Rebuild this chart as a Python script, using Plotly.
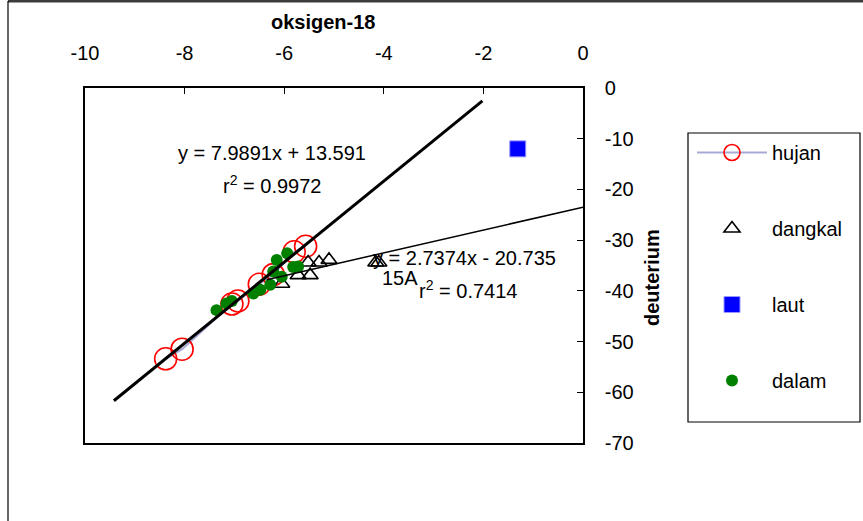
import plotly.graph_objects as go

# ---------------- data ----------------
hujan_x = [-8.38, -8.05, -7.05, -6.93, -6.50, -6.22, -5.80, -5.57]
hujan_y = [-53.4, -51.5, -42.6, -42.0, -38.7, -36.8, -32.3, -31.2]

dangkal_x = [-6.05, -5.72, -5.48, -5.52, -5.30, -5.10, -4.16, -4.10]
dangkal_y = [-38.6, -36.9, -36.9, -34.4, -34.4, -33.9, -34.4, -34.4]

laut_x = [-1.31]
laut_y = [-12.0]

dalam_x = [-7.36, -7.16, -7.05, -6.62, -6.48, -6.28, -6.22, -6.05, -6.15, -5.94, -5.82, -5.72]
dalam_y = [-43.8, -42.5, -42.0, -40.5, -39.8, -38.8, -36.2, -37.2, -33.9, -32.6, -35.3, -35.2]

# trendline of hujan: y = 7.9891x + 13.591
hujan_slope, hujan_intercept = 7.9891, 13.591
hujan_trend_x = [-9.42, -2.02]
hujan_trend_y = [hujan_slope * v + hujan_intercept for v in hujan_trend_x]

# trendline of dangkal as drawn in the picture
dangkal_trend_x = [-6.35, 0.0]
dangkal_trend_y = [-37.8, -23.5]

x_ticks = [-10, -8, -6, -4, -2, 0]
x_tick_labels = ["-10", "-8", "-6", "-4", "-2", "0"]
y_ticks = [0, -10, -20, -30, -40, -50, -60, -70]
y_tick_labels = ["0", "-10", "-20", "-30", "-40", "-50", "-60", "-70"]

FONT = "Liberation Sans, Arial, sans-serif"
FS = 20

# ---------------- figure ----------------
fig = go.Figure()

order = sorted(range(len(hujan_x)), key=lambda i: hujan_x[i])
fig.add_trace(go.Scatter(
    x=[hujan_x[i] for i in order], y=[hujan_y[i] for i in order],
    mode="lines+markers", name="hujan",
    line=dict(color="rgba(160,160,210,0.9)", width=2),
    marker=dict(symbol="circle-open", size=22, color="#ff0000", line=dict(width=1.6, color="#ff0000")),
    legendgroup="1",
))
fig.add_trace(go.Scatter(
    x=dangkal_x, y=dangkal_y, mode="markers", name="dangkal",
    marker=dict(symbol="triangle-up-open", size=14, color="black", line=dict(width=1.6, color="black")),
    legendgroup="2",
))
fig.add_trace(go.Scatter(
    x=laut_x, y=laut_y, mode="markers", name="laut",
    marker=dict(symbol="square", size=16, color="#0000ff", line=dict(width=1, color="#9999ff")),
    legendgroup="3",
))
fig.add_trace(go.Scatter(
    x=dalam_x, y=dalam_y, mode="markers", name="dalam",
    marker=dict(symbol="circle", size=12, color="#008000", line=dict(width=0)),
    legendgroup="4",
))
fig.add_trace(go.Scatter(
    x=hujan_trend_x, y=hujan_trend_y, mode="lines", showlegend=False,
    line=dict(color="black", width=3), hoverinfo="skip",
))
fig.add_trace(go.Scatter(
    x=dangkal_trend_x, y=dangkal_trend_y, mode="lines", showlegend=False,
    line=dict(color="black", width=1.5), hoverinfo="skip",
))

# pixel -> paper helpers (plot area 85..583 x 88..443)
L, R, T, B = 85, 583, 88, 443
def px(xp):
    return (xp - L) / (R - L)
def py(yp):
    return (B - yp) / (B - T)

txt = dict(size=FS, family=FONT, color="black")
annotations = [
    dict(text="<b>oksigen-18</b>", xref="paper", yref="paper", x=px(323), y=py(22),
         xanchor="center", yanchor="middle", showarrow=False, font=txt),
    dict(text="<b>deuterium</b>", xref="paper", yref="paper", x=px(652), y=py(278),
         xanchor="center", yanchor="middle", textangle=-90, showarrow=False, font=txt),
    dict(text="y = 7.9891x + 13.591", xref="x", yref="y", x=-6.24, y=-12.8,
         xanchor="center", yanchor="middle", showarrow=False, font=txt),
    dict(text="r<sup>2</sup> = 0.9972", xref="x", yref="y", x=-6.24, y=-19.1,
         xanchor="center", yanchor="middle", showarrow=False, font=txt),
    dict(text="y = 2.7374x - 20.735", xref="x", yref="y", x=-4.25, y=-33.5,
         xanchor="left", yanchor="middle", showarrow=False, font=txt),
    dict(text="15A", xref="x", yref="y", x=-4.08, y=-37.4,
         xanchor="left", yanchor="middle", showarrow=False, font=txt),
    dict(text="r<sup>2</sup> = 0.7414", xref="x", yref="y", x=-3.33, y=-39.8,
         xanchor="left", yanchor="middle", showarrow=False, font=txt),
]

shapes = [
    # outer chart frame (top and left visible)
    dict(type="line", xref="paper", yref="paper", x0=px(8), x1=px(870), y0=py(1), y1=py(1),
         line=dict(color="#3c3c3c", width=3)),
    dict(type="line", xref="paper", yref="paper", x0=px(8), x1=px(8), y0=py(1), y1=py(530),
         line=dict(color="black", width=1.2)),
    # legend frame
    dict(type="rect", xref="paper", yref="paper", x0=px(688), x1=px(860), y0=py(422), y1=py(133),
         line=dict(color="black", width=1.2), fillcolor="rgba(0,0,0,0)"),
]

axis_common = dict(
    showgrid=False, zeroline=False, showline=True, mirror=True,
    linecolor="black", linewidth=1.5, ticks="inside", ticklen=6,
    tickcolor="black", tickwidth=1.2,
    tickfont=dict(size=FS, family=FONT, color="black"),
)

fig.update_layout(
    width=863, height=521,
    margin=dict(l=L, r=863 - R, t=T, b=521 - B),
    paper_bgcolor="white", plot_bgcolor="white",
    xaxis=dict(range=[-10, 0], side="top", tickvals=x_ticks, ticktext=x_tick_labels,
               ticklabelstandoff=18, **axis_common),
    yaxis=dict(range=[-70, 0], side="right", tickvals=y_ticks, ticktext=y_tick_labels,
               ticklabelstandoff=16, **axis_common),
    showlegend=True,
    legend=dict(
        x=px(692), y=py(133), xanchor="left", yanchor="top",
        bgcolor="rgba(0,0,0,0)", borderwidth=0,
        font=txt,
        itemwidth=70, tracegroupgap=47, traceorder="grouped",
    ),
    annotations=annotations,
    shapes=shapes,
)

fig.write_html("out.html", config={"displayModeBar": False},
               post_script="document.body.style.margin='0px';")
